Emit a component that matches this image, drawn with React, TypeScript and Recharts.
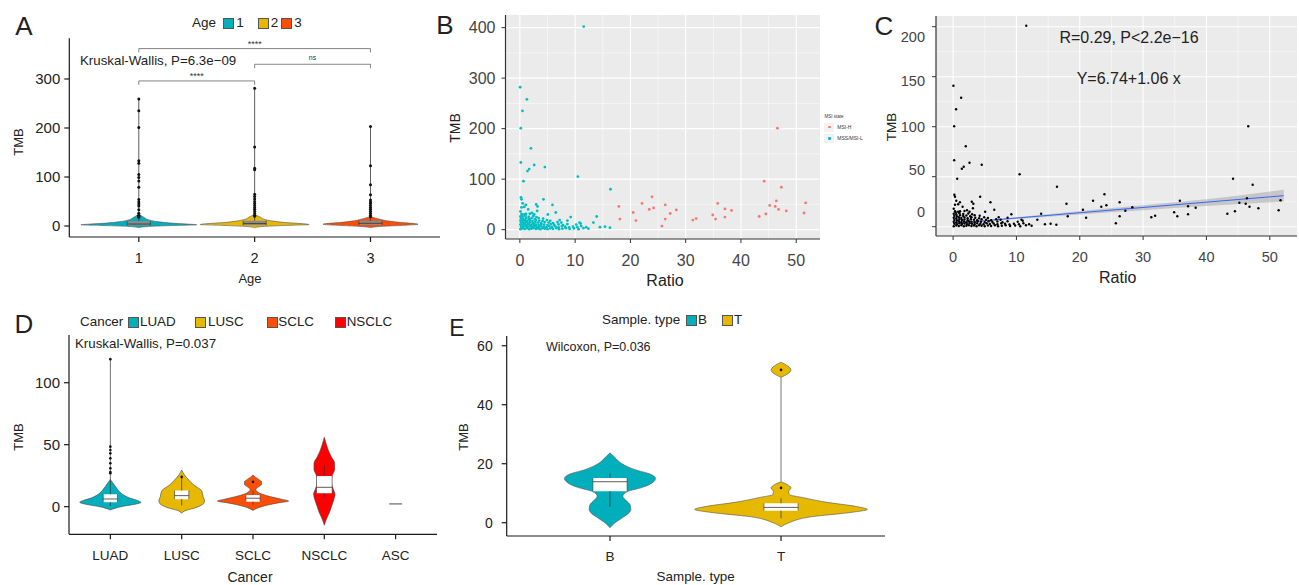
import React from 'react';
import { ComposedChart, Area, Scatter, XAxis, YAxis, ReferenceLine, CartesianGrid } from 'recharts';

const FONT = '"Liberation Sans", Arial, Helvetica, sans-serif';

// ---------------- Panel A : TMB by age ----------------
const ageGroups = ['1', '2', '3'];
const ageColors = ['#00AFBB', '#E7B800', '#FC4E07'];
const ageViolin1 = [[-3.5, 0], [-1, 0.08], [1, 0.3], [2.5, 0.5], [4, 0.42], [6, 0.28], [9, 0.16], [13, 0.08], [17, 0.05], [22, 0.015], [24, 0]];
const ageViolin2 = [[-3.5, 0], [-1, 0.07], [1, 0.25], [3, 0.47], [5, 0.4], [7, 0.27], [10, 0.16], [14, 0.08], [18, 0.05], [22, 0.015], [24, 0]];
const ageViolin3 = [[-3, 0], [-1, 0.08], [1, 0.25], [3.5, 0.41], [5, 0.38], [7, 0.27], [10, 0.16], [14, 0.08], [18, 0.02], [20, 0]];
const ageQ1 = [1, 1.5, 2];
const ageMedian = [4, 5, 5.5];
const ageQ3 = [10, 11, 11];
const ageMax = [259, 281, 203];
const ageOutliers1 = [259, 235, 201, 133, 128, 105, 99, 92, 79, 54, 49, 45, 41, 33, 26, 22, 20, 18];
const ageOutliers2 = [281, 161, 118, 115, 65, 60, 55, 50, 46, 42, 38, 34, 30, 26, 22, 20];
const ageOutliers3 = [203, 123, 84, 64, 53, 49, 46, 42, 38, 34, 30, 26, 22, 19];
const ageYTicks = [0, 100, 200, 300];
const ageBrackets = [
  { from: 1, to: 3, y: 362, label: '****' },
  { from: 2, to: 3, y: 330, label: 'ns' },
  { from: 1, to: 2, y: 296, label: '****' },
];

// ---------------- Panel B / C : TMB vs ratio ----------------
const msiHPoints = [
  [17.9, 46], [18.1, 21], [20.5, 34], [21.0, 18], [22.1, 52], [23.4, 40], [24.2, 43], [23.9, 65], [25.7, 7],
  [26.3, 49], [26.3, 21], [27.2, 32], [28.3, 39], [31.3, 19], [31.9, 22], [34.9, 29], [35.4, 21], [35.8, 52],
  [37.1, 25], [37.1, 41], [38.3, 38], [43.3, 26], [44.2, 96], [44.5, 31], [45.2, 48], [46.2, 46], [46.4, 57],
  [46.6, 201], [46.8, 40], [47.3, 84], [48.2, 37], [51.4, 33], [51.7, 53],
];
const mssOutlierPoints = [
  [11.55, 402], [0.05, 282], [1.27, 258], [0.47, 235], [0.17, 201], [2.0, 161], [0.17, 133], [1.68, 120],
  [1.38, 116], [2.59, 128], [4.52, 124], [0.65, 96], [10.5, 105], [16.4, 80], [0.2, 64], [0.3, 60], [0.5, 52],
  [1.08, 49], [2.95, 50], [3.2, 46], [4.27, 60], [5.9, 49], [3.13, 37], [5.06, 30], [6.5, 34], [9.2, 25],
  [13.9, 26], [13.3, 14], [8.6, 18], [7.2, 19], [14.5, 5], [15.4, 6], [16.3, 4], [0.3, 44], [0.8, 45],
  [1.5, 40], [0.1, 36], [2.2, 33], [1.1, 31], [0.4, 29],
];
const mssClusterPoints = [
  [0.1, 1], [0.5, 2.5], [0.9, 1.5], [1.3, 3], [1.7, 1], [2.1, 2], [2.5, 3], [2.9, 1.5], [3.3, 2.5], [3.7, 1],
  [4.1, 3], [4.5, 2], [5.0, 1], [5.5, 2.5], [6.0, 1.5], [6.6, 3], [7.1, 1], [7.7, 2], [8.3, 3], [9.0, 1.5],
  [9.8, 2.5], [10.6, 1], [11.5, 3], [12.4, 2],
  [0.2, 6], [0.6, 5], [1.0, 7], [1.4, 5.5], [1.8, 6.5], [2.2, 5], [2.6, 7], [3.0, 6], [3.4, 5], [3.8, 7],
  [4.3, 6], [4.8, 5], [5.3, 7], [5.8, 5.5], [6.4, 6.5], [7.0, 5], [7.6, 7], [8.2, 6], [8.9, 4.5], [9.6, 6],
  [10.4, 5], [11.1, 7], [12.0, 5],
  [0.1, 10], [0.5, 9], [0.9, 11], [1.3, 9.5], [1.7, 10.5], [2.1, 9], [2.5, 11], [2.9, 10], [3.4, 9], [3.9, 11],
  [4.4, 10], [5.0, 9], [5.6, 11], [6.2, 9.5], [7.0, 10.5], [7.8, 9], [8.6, 11], [10.2, 10], [11.0, 12],
  [0.2, 14], [0.6, 13], [1.0, 15], [1.4, 13.5], [1.8, 14.5], [2.3, 13], [2.8, 15], [3.3, 14], [3.8, 13],
  [4.5, 15], [5.2, 14], [6.0, 13], [6.8, 15], [7.5, 14], [10.8, 14],
  [0.1, 18], [0.5, 17], [0.9, 19], [1.3, 17.5], [1.8, 18.5], [2.3, 17], [2.9, 19], [3.5, 18], [4.1, 17],
  [4.9, 19], [5.5, 17.5],
  [0.2, 22], [0.6, 21], [1.1, 23], [1.6, 21.5], [2.1, 22.5], [2.7, 21], [3.4, 23], [4.2, 22],
  [0.1, 26], [0.5, 25], [1.0, 27], [1.6, 25.5], [2.4, 26.5], [3.0, 25],
  [0.3, 31], [0.8, 30], [1.8, 31.5], [2.6, 30],
];
const ratioTicks = [0, 10, 20, 30, 40, 50];
const ratioMinor = [5, 15, 25, 35, 45];
const tmbTicks = [0, 100, 200, 300, 400];
const tmbMinor = [50, 150, 250, 350];
const cTickLabels = ['0', '50', '100', '150', '200'];
const cTickShift = [-14.7, -7, 0, 4, 10];
const fitLine = [{ x: 0, y: 6.74 }, { x: 52.2, y: 62 }];
const fitBandX = [0, 5, 10, 20, 30, 40, 52.2];
const fitBandLow = [4.7, 10.5, 15.6, 24.5, 33, 41.5, 50];
const fitBandHigh = [8.8, 13.2, 19, 31.5, 43, 55, 74];

// ---------------- Panel D : TMB by cancer ----------------
const cancerTypes = ['LUAD', 'LUSC', 'SCLC', 'NSCLC', 'ASC'];
const cancerColors = ['#00AFBB', '#E7B800', '#FC4E07', '#FF0000'];
const violinLUAD = [[-2.7, 0], [0, 0.15], [2, 0.35], [3.5, 0.43], [5, 0.38], [7, 0.27], [10, 0.17], [14, 0.1], [18, 0.05], [21, 0.012], [22, 0]];
const violinLUSC = [[-5.3, 0], [-3, 0.06], [-1.3, 0.17], [1, 0.27], [2.7, 0.31], [5, 0.32], [8, 0.3], [11, 0.29], [13.5, 0.27], [15.5, 0.22], [17.5, 0.17], [21.5, 0.1], [25.5, 0.04], [29.6, 0]];
const violinSCLC = [[-3, 0], [0, 0.12], [3, 0.35], [4.5, 0.5], [6, 0.4], [8, 0.25], [10, 0.13], [12, 0.06], [14, 0.04], [16, 0.08], [18, 0.12], [20, 0.12], [22, 0.08], [24, 0.03], [25.5, 0]];
const violinNSCLC = [[-15, 0], [-10, 0.03], [-5, 0.07], [0, 0.1], [5, 0.13], [10, 0.15], [15, 0.12], [20, 0.1], [25, 0.11], [30, 0.145], [35, 0.145], [40, 0.1], [45, 0.06], [50, 0.03], [56, 0]];
const cancerQ1 = [3.5, 6, 4, 10.8];
const cancerMedian = [6.2, 8.9, 6.8, 15.6];
const cancerQ3 = [10, 13, 9.4, 24.8];
const cancerLow = [0.5, 1, 1.5, 7.6];
const cancerHigh = [119, 24, 13, 33.6];
const cancerBoxHalf = [0.1, 0.1, 0.1, 0.11];
const cancerOutliersLUAD = [27, 28, 31, 35, 39, 43, 45.7, 48.4, 119];
const cancerOutliersLUSC = [24];
const cancerOutliersSCLC = [20];
const ascValue = 2.2;
const cancerYTicks = [0, 50, 100];

// ---------------- Panel E : TMB by sample type ----------------
const sampleTypes = ['B', 'T'];
const sampleColors = ['#00AFBB', '#E7B800'];
const violinB = [[-1.7, 0], [0, 0.03], [1, 0.055], [2, 0.08], [3, 0.105], [4.5, 0.122], [6, 0.118], [7.5, 0.095], [9, 0.075], [10.5, 0.1], [12, 0.19], [14, 0.257], [15, 0.266], [16.5, 0.234], [18, 0.146], [20, 0.07], [22, 0.03], [23.7, 0]];
const violinT = [[-1.4, 0], [0, 0.047], [2, 0.175], [3.5, 0.41], [4.5, 0.505], [5.5, 0.44], [7, 0.26], [8.5, 0.13], [9.6, 0.047], [10.6, 0.045], [11.8, 0.058], [13, 0.035], [13.9, 0]];
const violinTTop = [[49.3, 0], [50.5, 0.04], [51.8, 0.058], [53.1, 0.04], [54.4, 0]];
const sampleQ1 = [10.7, 4.1];
const sampleMedian = [13.9, 5.2];
const sampleQ3 = [15.2, 6.6];
const sampleLow = [5.4, 1.5];
const sampleHigh = [16.7, 8.3];
const sampleOutliersT = [51.8, 11.8];
const sampleYTicks = [0, 20, 40, 60];

// ---------------- helpers ----------------
type Spec = { key: string; center: number; profile: number[][] };
function violinRows(specs: Spec[]) {
  const rows: Record<string, any>[] = [];
  specs.forEach((s) => s.profile.forEach(([y, w]) => rows.push({ y, [s.key]: [s.center - w, s.center + w] })));
  return rows.sort((a, b) => a.y - b.y);
}
const boxProfile = (q1: number, q3: number, half: number) => [[q1, half], [q3, half]];
const rangeKey = (k: string) => (r: any) => (r[k] ? r[k] : [null, null]);

const Dot = (r: number, fill: string) => (p: any) => <circle cx={p.cx} cy={p.cy} r={r} fill={fill} />;

function Txt(props: { x: number; y: number; size?: number; anchor?: 'start' | 'middle' | 'end'; rotate?: boolean; color?: string; children: React.ReactNode }) {
  const { x, y, size = 13, anchor = 'middle', rotate = false, color = '#222', children } = props;
  const tx = anchor === 'middle' ? '-50%' : anchor === 'end' ? '-100%' : '0';
  return (
    <div
      style={{
        position: 'absolute', left: x, top: y, fontFamily: FONT, fontSize: size, color, lineHeight: 1,
        whiteSpace: 'nowrap', transform: `translate(${tx}, -50%)${rotate ? ' rotate(-90deg)' : ''}`,
      }}
    >
      {children}
    </div>
  );
}
function Swatch({ x, y, color, size = 11 }: { x: number; y: number; color: string; size?: number }) {
  return <div style={{ position: 'absolute', left: x, top: y, width: size, height: size, background: color, border: '0.6px solid #555', boxSizing: 'border-box' }} />;
}

const axisStyle = { stroke: '#1a1a1a', strokeWidth: 1.2 };
const tickStyle = (size: number, fill = '#222') => ({ fontSize: size, fill, fontFamily: FONT });

// ---------------- Panel components ----------------
function PanelA() {
  const specs: Spec[] = [
    { key: 'v1', center: 1, profile: ageViolin1 },
    { key: 'v2', center: 2, profile: ageViolin2 },
    { key: 'v3', center: 3, profile: ageViolin3 },
    ...ageGroups.map((_, i) => ({ key: 'b' + i, center: i + 1, profile: boxProfile(ageQ1[i], ageQ3[i], 0.1) })),
  ];
  const rows = violinRows(specs);
  const outliers = [ageOutliers1, ageOutliers2, ageOutliers3];
  return (
    <div style={{ position: 'absolute', left: 0, top: 0 }}>
      <ComposedChart width={450} height={300} data={rows} layout="vertical" margin={{ top: 38.3, right: 10, left: 29.3, bottom: 23 }}>
        <XAxis type="number" domain={[0.4, 3.6]} ticks={[1, 2, 3]} allowDataOverflow height={40}
          tickFormatter={(v: number) => ageGroups[v - 1]} axisLine={axisStyle} tickLine={axisStyle} tickSize={5} tickMargin={11} tick={tickStyle(14.5)} />
        <YAxis type="number" dataKey="y" reversed domain={[-22.4, 383]} ticks={ageYTicks} allowDataOverflow width={40}
          axisLine={axisStyle} tickLine={axisStyle} tickSize={5} tickMargin={4} tick={tickStyle(15)} />
        {ageGroups.map((_, i) => (
          <ReferenceLine key={'ln' + i} segment={[{ x: i + 1, y: ageQ3[i] }, { x: i + 1, y: ageMax[i] }]} stroke="#333" strokeWidth={0.8} />
        ))}
        {['v1', 'v2', 'v3'].map((k, i) => (
          <Area key={k} dataKey={rangeKey(k)} type="monotone" connectNulls fill={ageColors[i]} fillOpacity={1} stroke="#555" strokeWidth={0.6} isAnimationActive={false} />
        ))}
        {ageGroups.map((_, i) => (
          <Area key={'b' + i} dataKey={rangeKey('b' + i)} type="linear" connectNulls fill="#8a8a8a" fillOpacity={1} stroke="#333" strokeWidth={0.6} isAnimationActive={false} />
        ))}
        {ageGroups.map((_, i) => (
          <ReferenceLine key={'md' + i} segment={[{ x: i + 0.9, y: ageMedian[i] }, { x: i + 1.1, y: ageMedian[i] }]} stroke="#333" strokeWidth={0.8} />
        ))}
        {outliers.map((o, i) => (
          <Scatter key={'o' + i} data={o.map((y) => ({ x: i + 1, y }))} dataKey="x" shape={Dot(1.5, '#111')} isAnimationActive={false} />
        ))}
        {ageBrackets.map((b, i) => (
          <ReferenceLine key={'bh' + i} segment={[{ x: b.from, y: b.y }, { x: b.to, y: b.y }]} stroke="#666" strokeWidth={0.8}
            label={{ value: b.label, position: 'top', offset: b.label === 'ns' ? 4 : 2, fontSize: b.label === 'ns' ? 7 : 9, fill: '#333', fontFamily: FONT }} />
        ))}
        {ageBrackets.map((b, i) => (
          <ReferenceLine key={'bl' + i} segment={[{ x: b.from, y: b.y }, { x: b.from, y: b.y - 8 }]} stroke="#666" strokeWidth={0.8} />
        ))}
        {ageBrackets.map((b, i) => (
          <ReferenceLine key={'br' + i} segment={[{ x: b.to, y: b.y }, { x: b.to, y: b.y - 8 }]} stroke="#666" strokeWidth={0.8} />
        ))}
      </ComposedChart>
    </div>
  );
}

function PanelB() {
  const mss = [...mssOutlierPoints, ...mssClusterPoints].map(([x, y]) => ({ x, y }));
  const msi = msiHPoints.map(([x, y]) => ({ x, y }));
  return (
    <div style={{ position: 'absolute', left: 450, top: 0 }}>
      <ComposedChart width={390} height={300} margin={{ top: 15, right: 20, left: 10.5, bottom: 21 }}>
        <CartesianGrid fill="#EBEBEB" stroke="#FFFFFF" strokeWidth={0.5} horizontalValues={tmbMinor} verticalValues={ratioMinor} />
        <CartesianGrid stroke="#FFFFFF" strokeWidth={1.1} horizontalValues={tmbTicks} verticalValues={ratioTicks} />
        <XAxis type="number" dataKey="x" domain={[-2.6, 54.3]} ticks={ratioTicks} allowDataOverflow height={40}
          axisLine={{ stroke: '#333', strokeWidth: 1.2 }} tickLine={{ stroke: '#333' }} tickSize={4} tickMargin={12} tick={tickStyle(16, '#444')} />
        <YAxis type="number" dataKey="y" domain={[-18.5, 425]} ticks={tmbTicks} allowDataOverflow width={45}
          axisLine={{ stroke: '#333', strokeWidth: 1.2 }} tickLine={{ stroke: '#333' }} tickSize={4} tickMargin={6} tick={tickStyle(16, '#444')} />
        <Scatter data={msi} shape={Dot(1.4, '#F8766D')} isAnimationActive={false} />
        <Scatter data={mss} shape={Dot(1.4, '#00BFC4')} isAnimationActive={false} />
      </ComposedChart>
    </div>
  );
}

function CYTick(props: any) {
  const { x, y, payload } = props;
  const i = tmbTicks.indexOf(payload.value);
  return (
    <text x={x} y={y + cTickShift[i]} textAnchor="end" dominantBaseline="central" fontSize={14.5} fill="#444" fontFamily={FONT}>
      {cTickLabels[i]}
    </text>
  );
}

function PanelC() {
  const pts = [...mssOutlierPoints, ...mssClusterPoints, ...msiHPoints].map(([x, y]) => ({ x, y }));
  const band = fitBandX.map((x, i) => ({ x, band: [fitBandLow[i], fitBandHigh[i]] }));
  return (
    <div style={{ position: 'absolute', left: 870, top: 0 }}>
      <ComposedChart width={429} height={300} data={band} margin={{ top: 16, right: 2, left: 21, bottom: 24 }}>
        <CartesianGrid fill="#EBEBEB" stroke="#FFFFFF" strokeWidth={0.5} horizontalValues={tmbMinor} verticalValues={ratioMinor} />
        <CartesianGrid stroke="#FFFFFF" strokeWidth={1.1} horizontalValues={tmbTicks} verticalValues={ratioTicks} />
        <XAxis type="number" dataKey="x" domain={[-2.7, 54.3]} ticks={ratioTicks} allowDataOverflow height={40}
          axisLine={{ stroke: '#333', strokeWidth: 1.2 }} tickLine={{ stroke: '#333' }} tickSize={4} tickMargin={12} tick={tickStyle(14.5, '#444')} />
        <YAxis type="number" dataKey="y" domain={[-18.6, 421.4]} ticks={tmbTicks} allowDataOverflow width={45}
          axisLine={{ stroke: '#333', strokeWidth: 1.2 }} tickLine={{ stroke: '#333' }} tickSize={4} tickMargin={7} tick={<CYTick />} />
        <Scatter data={pts} shape={Dot(1.2, '#000')} isAnimationActive={false} />
        <Area dataKey="band" type="monotone" fill="#999999" fillOpacity={0.45} stroke="none" isAnimationActive={false} />
        <ReferenceLine segment={fitLine} stroke="#3366FF" strokeWidth={1} />
      </ComposedChart>
    </div>
  );
}

function PanelD() {
  const specs: Spec[] = [
    { key: 'v0', center: 1, profile: violinLUAD },
    { key: 'v1', center: 2, profile: violinLUSC },
    { key: 'v2', center: 3, profile: violinSCLC },
    { key: 'v3', center: 4, profile: violinNSCLC },
    ...cancerQ1.map((q, i) => ({ key: 'b' + i, center: i + 1, profile: boxProfile(q, cancerQ3[i], cancerBoxHalf[i]) })),
  ];
  const rows = violinRows(specs);
  const outliers = [cancerOutliersLUAD, cancerOutliersLUSC, cancerOutliersSCLC];
  return (
    <div style={{ position: 'absolute', left: 0, top: 300 }}>
      <ComposedChart width={450} height={285} data={rows} layout="vertical" margin={{ top: 35, right: 13, left: 29, bottom: 10.7 }}>
        <XAxis type="number" domain={[0.42, 5.58]} ticks={[1, 2, 3, 4, 5]} allowDataOverflow height={40}
          tickFormatter={(v: number) => cancerTypes[v - 1]} axisLine={axisStyle} tickLine={axisStyle} tickSize={5} tickMargin={11} tick={tickStyle(13.5)} />
        <YAxis type="number" dataKey="y" reversed domain={[-22.3, 138.5]} ticks={cancerYTicks} allowDataOverflow width={40}
          axisLine={axisStyle} tickLine={axisStyle} tickSize={5} tickMargin={4} tick={tickStyle(15)} />
        {cancerQ1.map((_, i) => (
          <Area key={'v' + i} dataKey={rangeKey('v' + i)} type="monotone" connectNulls fill={cancerColors[i]} fillOpacity={1} stroke="#444" strokeWidth={0.6} isAnimationActive={false} />
        ))}
        {cancerQ1.map((_, i) => (
          <ReferenceLine key={'wh' + i} segment={[{ x: i + 1, y: cancerQ3[i] }, { x: i + 1, y: cancerHigh[i] }]} stroke="#333" strokeWidth={0.7} />
        ))}
        {cancerQ1.map((q, i) => (
          <ReferenceLine key={'wl' + i} segment={[{ x: i + 1, y: cancerLow[i] }, { x: i + 1, y: q }]} stroke="#333" strokeWidth={0.7} />
        ))}
        {cancerQ1.map((_, i) => (
          <Area key={'b' + i} dataKey={rangeKey('b' + i)} type="linear" connectNulls fill="#FFFFFF" fillOpacity={1} stroke="#333" strokeWidth={0.6} isAnimationActive={false} />
        ))}
        {cancerMedian.map((m, i) => (
          <ReferenceLine key={'md' + i} segment={[{ x: i + 1 - cancerBoxHalf[i], y: m }, { x: i + 1 + cancerBoxHalf[i], y: m }]} stroke="#333" strokeWidth={0.8} />
        ))}
        <ReferenceLine segment={[{ x: 4.91, y: ascValue }, { x: 5.09, y: ascValue }]} stroke="#333" strokeWidth={0.9} />
        {outliers.map((o, i) => (
          <Scatter key={'o' + i} data={o.map((y) => ({ x: i + 1, y }))} dataKey="x" shape={Dot(1.3, '#111')} isAnimationActive={false} />
        ))}
      </ComposedChart>
    </div>
  );
}

function PanelE() {
  const specs: Spec[] = [
    { key: 'v0', center: 1, profile: violinB },
    { key: 'v1', center: 2, profile: violinT },
    { key: 'v2', center: 2, profile: violinTTop },
    ...sampleQ1.map((q, i) => ({ key: 'b' + i, center: i + 1, profile: boxProfile(q, sampleQ3[i], 0.1) })),
  ];
  const rows = violinRows(specs);
  const fills = [sampleColors[0], sampleColors[1], sampleColors[1]];
  return (
    <div style={{ position: 'absolute', left: 450, top: 300 }}>
      <ComposedChart width={450} height={285} data={rows} layout="vertical" margin={{ top: 36, right: 15, left: 16.7, bottom: 9 }}>
        <XAxis type="number" domain={[0.396, 2.608]} ticks={[1, 2]} allowDataOverflow height={40}
          tickFormatter={(v: number) => sampleTypes[v - 1]} axisLine={axisStyle} tickLine={axisStyle} tickSize={5} tickMargin={10} tick={tickStyle(13.5)} />
        <YAxis type="number" dataKey="y" reversed domain={[-4.5, 63.3]} ticks={sampleYTicks} allowDataOverflow width={40}
          axisLine={axisStyle} tickLine={axisStyle} tickSize={5} tickMargin={9} tick={tickStyle(14)} />
        <ReferenceLine segment={[{ x: 2, y: 13.9 }, { x: 2, y: 49.3 }]} stroke="#555" strokeWidth={0.8} />
        {fills.map((f, i) => (
          <Area key={'v' + i} dataKey={rangeKey('v' + i)} type="monotone" connectNulls fill={f} fillOpacity={1} stroke="#555" strokeWidth={0.6} isAnimationActive={false} />
        ))}
        {sampleQ1.map((_, i) => (
          <ReferenceLine key={'wh' + i} segment={[{ x: i + 1, y: sampleQ3[i] }, { x: i + 1, y: sampleHigh[i] }]} stroke="#333" strokeWidth={0.7} />
        ))}
        {sampleQ1.map((q, i) => (
          <ReferenceLine key={'wl' + i} segment={[{ x: i + 1, y: sampleLow[i] }, { x: i + 1, y: q }]} stroke="#333" strokeWidth={0.7} />
        ))}
        {sampleQ1.map((_, i) => (
          <Area key={'b' + i} dataKey={rangeKey('b' + i)} type="linear" connectNulls fill="#FFFFFF" fillOpacity={1} stroke="#333" strokeWidth={0.6} isAnimationActive={false} />
        ))}
        {sampleMedian.map((m, i) => (
          <ReferenceLine key={'md' + i} segment={[{ x: i + 0.9, y: m }, { x: i + 1.1, y: m }]} stroke="#333" strokeWidth={0.8} />
        ))}
        <Scatter data={sampleOutliersT.map((y) => ({ x: 2, y }))} dataKey="x" shape={Dot(1.3, '#111')} isAnimationActive={false} />
      </ComposedChart>
    </div>
  );
}

export default function App() {
  return (
    <div style={{ position: 'absolute', left: 0, top: 0, width: 1299, height: 585, background: '#FFFFFF', overflow: 'hidden' }}>
      <PanelA />
      <PanelB />
      <PanelC />
      <PanelD />
      <PanelE />

      {/* panel letters */}
      <Txt x={24} y={26} size={26}>A</Txt>
      <Txt x={445} y={25} size={26}>B</Txt>
      <Txt x={884} y={26} size={26}>C</Txt>
      <Txt x={24} y={324} size={26}>D</Txt>
      <Txt x={457} y={328} size={23}>E</Txt>

      {/* Panel A texts */}
      <Txt x={204} y={23} size={13.5}>Age</Txt>
      {ageGroups.map((g, i) => (
        <React.Fragment key={g}>
          <Swatch x={[223.3, 258.3, 280.7][i]} y={17.5} color={ageColors[i]} />
          <Txt x={[240, 274.5, 298][i]} y={23} size={13.5}>{g}</Txt>
        </React.Fragment>
      ))}
      <Txt x={80} y={61} size={13.3} anchor="start">Kruskal-Wallis, P=6.3e−09</Txt>
      <Txt x={250} y={277.5} size={13}>Age</Txt>
      <Txt x={18.3} y={141.7} size={13} rotate>TMB</Txt>

      {/* Panel B texts */}
      <Txt x={455} y={128} size={14} rotate>TMB</Txt>
      <Txt x={665} y={281} size={16}>Ratio</Txt>
      <Txt x={824.5} y={116.5} size={4.5} anchor="start" color="#333">MSI state</Txt>
      <div style={{ position: 'absolute', left: 824.3, top: 122.7, width: 10, height: 9, background: '#F2F2F2' }} />
      <div style={{ position: 'absolute', left: 828, top: 125.7, width: 2.6, height: 2.6, borderRadius: '50%', background: '#F8766D' }} />
      <Txt x={837.3} y={127.3} size={5} anchor="start" color="#333">MSI-H</Txt>
      <div style={{ position: 'absolute', left: 824.3, top: 133.8, width: 10, height: 9, background: '#F2F2F2' }} />
      <div style={{ position: 'absolute', left: 828, top: 137, width: 2.6, height: 2.6, borderRadius: '50%', background: '#00BFC4' }} />
      <Txt x={837.3} y={138.3} size={5} anchor="start" color="#333">MSS/MSI-L</Txt>

      {/* Panel C texts */}
      <Txt x={892} y={127} size={13.5} rotate>TMB</Txt>
      <Txt x={1117.7} y={278.3} size={16}>Ratio</Txt>
      <Txt x={1129} y={37.5} size={16}>R=0.29, P&lt;2.2e−16</Txt>
      <Txt x={1128.7} y={79} size={16}>Y=6.74+1.06 x</Txt>

      {/* Panel D texts */}
      <Txt x={101.7} y={322} size={13.4}>Cancer</Txt>
      {cancerColors.map((c, i) => (
        <React.Fragment key={c}>
          <Swatch x={[127.7, 195, 266.7, 335][i]} y={316.5} color={c} />
          <Txt x={[140, 208, 278.3, 346.7][i]} y={322} size={13.4} anchor="start">{cancerTypes[i]}</Txt>
        </React.Fragment>
      ))}
      <Txt x={75} y={344.3} size={13.3} anchor="start">Kruskal-Wallis, P=0.037</Txt>
      <Txt x={250} y={576.7} size={14}>Cancer</Txt>
      <Txt x={18.3} y={436.7} size={13} rotate>TMB</Txt>

      {/* Panel E texts */}
      <Txt x={602} y={320} size={13.4} anchor="start">Sample. type</Txt>
      {sampleTypes.map((s, i) => (
        <React.Fragment key={s}>
          <Swatch x={[685.7, 721.7][i]} y={314.5} color={sampleColors[i]} />
          <Txt x={[698, 734][i]} y={320} size={13.4} anchor="start">{s}</Txt>
        </React.Fragment>
      ))}
      <Txt x={546} y={346.7} size={12.5} anchor="start">Wilcoxon, P=0.036</Txt>
      <Txt x={695.7} y={576.7} size={13.4}>Sample. type</Txt>
      <Txt x={463.3} y={436.7} size={13} rotate>TMB</Txt>
    </div>
  );
}
